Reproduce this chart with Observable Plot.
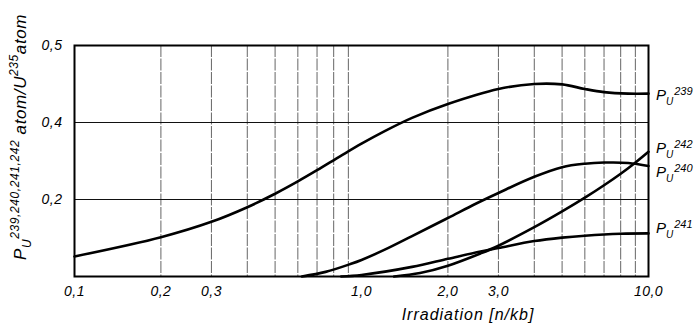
<!DOCTYPE html>
<html>
<head>
<meta charset="utf-8">
<script src="https://cdn.jsdelivr.net/npm/d3@7"></script>
<script src="https://cdn.jsdelivr.net/npm/@observablehq/plot@0.6"></script>
<style>
  html, body { margin: 0; padding: 0; background: #fff; }
  svg text { font-style: italic; }
</style>
</head>
<body>
<div id="chart"></div>
<script>
// Tick values and labels
const xTicks = [0.1, 0.2, 0.3, 0.5, 1, 2, 3, 5, 10];
const xTickLabels = ["0,1", "0,2", "0,3", "0,5", "1,0", "2,0", "3,0", "5,0", "10,0"];
const xGrid = [0.2, 0.3, 0.4, 0.5, 0.6, 0.7, 0.8, 0.9, 2, 3, 4, 5, 6, 7, 8, 9];
const yTicks = [0.2, 0.4, 0.6];
const yTickLabels = ["0,2", "0,4", "0,5"];
const yGrid = [0.2, 0.4];

// Series (irradiation in n/kb, atoms per U-235 atom)
const pu239X = [0.1, 0.2, 0.3, 0.4, 0.5, 0.6, 0.7, 0.85, 1.0, 1.2, 1.5, 2.0, 3.0, 4.0, 5.0, 6.0, 7.0, 8.5, 10];
const pu239Y = [0.052, 0.102, 0.142, 0.18, 0.215, 0.247, 0.276, 0.314, 0.345, 0.377, 0.412, 0.448, 0.487, 0.50, 0.499, 0.487, 0.479, 0.475, 0.475];

const pu240X = [0.62, 0.75, 0.92, 1.0, 1.2, 1.5, 2.0, 2.5, 3.0, 4.0, 5.0, 6.0, 7.0, 8.5, 10];
const pu240Y = [0.0, 0.012, 0.033, 0.043, 0.069, 0.105, 0.152, 0.189, 0.217, 0.259, 0.284, 0.293, 0.296, 0.295, 0.287];

const pu241X = [0.85, 1.0, 1.5, 2.0, 2.6, 3.0, 4.0, 5.0, 6.0, 8.0, 10];
const pu241Y = [0.0, 0.004, 0.025, 0.046, 0.065, 0.074, 0.092, 0.101, 0.106, 0.111, 0.112];

const pu242X = [1.3, 1.6, 2.0, 2.6, 3.0, 4.0, 5.0, 6.1, 7.0, 8.0, 8.9, 10];
const pu242Y = [0.0, 0.009, 0.028, 0.06, 0.08, 0.128, 0.169, 0.208, 0.237, 0.267, 0.293, 0.324];

// Right-hand labels, top to bottom, and the value level of each label's baseline
const labelOrder = ["239", "242", "240", "241"];
const labelValues = [0.457, 0.319, 0.257, 0.112];

const series = [
  {name: "239", xs: pu239X, ys: pu239Y},
  {name: "240", xs: pu240X, ys: pu240Y},
  {name: "241", xs: pu241X, ys: pu241Y},
  {name: "242", xs: pu242X, ys: pu242Y}
];
const rows = series.flatMap(s => s.xs.map((x, i) => ({series: s.name, x, y: s.ys[i]})));

const FONT = "'Liberation Sans', 'DejaVu Sans', sans-serif";

const plot = Plot.plot({
  width: 698,
  height: 325,
  marginLeft: 74,
  marginRight: 50,
  marginTop: 45,
  marginBottom: 49,
  style: {fontFamily: FONT, fontSize: "14px", fontStyle: "italic", background: "#fff", color: "#000", letterSpacing: "0.5px"},
  x: {type: "log", domain: [0.1, 10]},
  y: {domain: [0, 0.6]},
  marks: [
    Plot.ruleX(xGrid, {stroke: "#555", strokeWidth: 0.9, strokeDasharray: "12,1.5"}),
    Plot.ruleY(yGrid, {stroke: "#111", strokeWidth: 1}),
    Plot.axisX(xTicks, {tickSize: 0, tickPadding: 10, label: null,
      tickFormat: d => xTickLabels[xTicks.indexOf(d)], fontSize: 14}),
    Plot.axisY(yTicks, {tickSize: 0, tickPadding: 12, label: null,
      tickFormat: d => yTickLabels[yTicks.indexOf(d)], fontSize: 14}),
    Plot.line(rows, {x: "x", y: "y", z: "series", stroke: "#000", strokeWidth: 2.6, curve: "catmull-rom"}),
    Plot.frame({stroke: "#000", strokeWidth: 2})
  ]
});

const svg = d3.select(plot);
const yS = plot.scale("y");

// Right-hand series labels
labelOrder.forEach((nm, i) => {
  const t = svg.append("text")
    .attr("x", 656)
    .attr("y", yS.apply(labelValues[i]))
    .attr("text-anchor", "start")
    .attr("font-family", FONT)
    .attr("font-style", "italic")
    .attr("fill", "#000")
    .attr("letter-spacing", "0px")
    .attr("font-size", 15);
  t.append("tspan").text("P");
  t.append("tspan").attr("font-size", 10).attr("dy", 5).text("U");
  t.append("tspan").attr("font-size", 11).attr("dy", -10).attr("dx", 1).text(nm);
});

// Y-axis title
const yt = svg.append("text")
  .attr("transform", "translate(26,137) rotate(-90)")
  .attr("text-anchor", "middle")
  .attr("font-family", FONT)
  .attr("font-style", "italic")
  .attr("fill", "#000")
  .attr("letter-spacing", "0.6px")
  .attr("font-size", 17);
yt.append("tspan").text("P");
yt.append("tspan").attr("font-size", 12).attr("dy", 5).text("U");
yt.append("tspan").attr("font-size", 12).attr("dy", -12).text("239,240,241,242");
yt.append("tspan").attr("dy", 7).text(" atom/U");
yt.append("tspan").attr("font-size", 12).attr("dy", -8).text("235");
yt.append("tspan").attr("dy", 8).text("atom");

// X-axis title
svg.append("text")
  .attr("x", 468)
  .attr("y", 320)
  .attr("text-anchor", "middle")
  .attr("font-family", FONT)
  .attr("font-style", "italic")
  .attr("fill", "#000")
  .attr("letter-spacing", "1px")
  .attr("font-size", 16)
  .text("Irradiation [n/kb]");

document.getElementById("chart").appendChild(plot);
</script>
</body>
</html>
